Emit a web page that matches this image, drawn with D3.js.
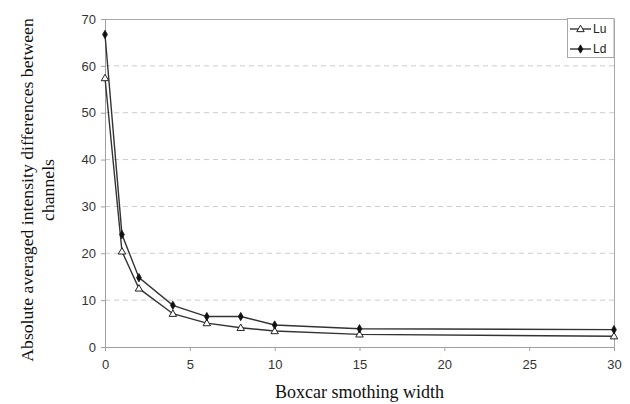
<!DOCTYPE html>
<html>
<head>
<meta charset="utf-8">
<script src="https://cdn.jsdelivr.net/npm/d3@7"></script>
<style>
  html, body { margin: 0; padding: 0; background: #fff; }
  svg { display: block; }
</style>
</head>
<body>
<div id="chart"></div>
<script>
const widths = [0, 1, 2, 4, 6, 8, 10, 15, 30];
const lu = [57.4, 20.4, 12.5, 7.1, 5.1, 4.1, 3.4, 2.7, 2.3];
const ld = [66.7, 24.0, 14.8, 8.9, 6.5, 6.5, 4.7, 3.9, 3.7];
const xTicks = [0, 5, 10, 15, 20, 25, 30];
const yTicks = [0, 10, 20, 30, 40, 50, 60, 70];

const width = 630;
const height = 404;
const area = { left: 105, right: 614, top: 19, bottom: 347 };

const svg = d3.select("#chart")
  .append("svg")
  .attr("width", width)
  .attr("height", height);

const xScale = d3.scaleLinear().domain([0, 30]).range([area.left, area.right]);
const yScale = d3.scaleLinear().domain([0, 70]).range([area.bottom, area.top]);

// dashed gridlines
svg.append("g")
  .selectAll("line")
  .data(yTicks.filter(d => d > 0 && d < 70))
  .join("line")
  .attr("x1", area.left)
  .attr("x2", area.right)
  .attr("y1", d => yScale(d))
  .attr("y2", d => yScale(d))
  .attr("stroke", "#cccccc")
  .attr("stroke-width", 1)
  .attr("stroke-dasharray", "5,4");

// top and right border
svg.append("path")
  .attr("d", `M${area.left},${area.top + 0.5}H${area.right + 0.5}V${area.bottom}`)
  .attr("fill", "none")
  .attr("stroke", "#a8a8a8");

// axes
const xAxis = svg.append("g")
  .attr("transform", `translate(0,${area.bottom})`)
  .call(d3.axisBottom(xScale).tickValues(xTicks).tickSize(4).tickPadding(9));

const yAxis = svg.append("g")
  .attr("transform", `translate(${area.left},0)`)
  .call(d3.axisLeft(yScale).tickValues(yTicks).tickSize(4).tickPadding(5));

[xAxis, yAxis].forEach(g => {
  g.select(".domain").attr("stroke", "#a0a0a0");
  g.selectAll(".tick line").attr("stroke", "#a0a0a0");
  g.selectAll(".tick text")
    .attr("fill", "#333")
    .style("font-family", "Liberation Sans, Arial, sans-serif")
    .style("font-size", "13px");
});

const line = d3.line()
  .x((d, i) => xScale(widths[i]))
  .y(d => yScale(d));

const series = [
  { name: "Lu", values: lu, marker: "triangle" },
  { name: "Ld", values: ld, marker: "diamond" },
];

function drawMarker(g, type, x, y) {
  if (type === "triangle") {
    g.append("path")
      .attr("d", d3.symbol(d3.symbolTriangle, 24)())
      .attr("transform", `translate(${x},${y + 0.5})`)
      .attr("fill", "#fff")
      .attr("stroke", "#222")
      .attr("stroke-width", 1);
  } else {
    g.append("path")
      .attr("d", d3.symbol(d3.symbolDiamond, 20)())
      .attr("transform", `translate(${x},${y})`)
      .attr("fill", "#111")
      .attr("stroke", "#111")
      .attr("stroke-width", 0.8);
  }
}

series.forEach(s => {
  svg.append("path")
    .datum(s.values)
    .attr("d", line)
    .attr("fill", "none")
    .attr("stroke", "#333")
    .attr("stroke-width", 1.4);
});

series.forEach(s => {
  const g = svg.append("g");
  s.values.forEach((v, i) => drawMarker(g, s.marker, xScale(widths[i]), yScale(v)));
});

// legend
const legend = svg.append("g");
legend.append("rect")
  .attr("x", 567.5)
  .attr("y", 18.5)
  .attr("width", 46.5)
  .attr("height", 39)
  .attr("fill", "#fff")
  .attr("stroke", "#a8a8a8");

series.forEach((s, i) => {
  const y = 29 + i * 20;
  legend.append("line")
    .attr("x1", 570).attr("x2", 591)
    .attr("y1", y).attr("y2", y)
    .attr("stroke", "#333")
    .attr("stroke-width", 1.4);
  drawMarker(legend, s.marker, 580.5, y);
  legend.append("text")
    .attr("x", 593)
    .attr("y", y)
    .attr("dy", "0.35em")
    .attr("fill", "#222")
    .style("font-family", "Liberation Sans, Arial, sans-serif")
    .style("font-size", "12px")
    .text(s.name);
});

// axis titles
svg.append("text")
  .attr("x", (area.left + area.right) / 2)
  .attr("y", 398)
  .attr("text-anchor", "middle")
  .attr("fill", "#111")
  .style("font-family", "Liberation Serif, Times New Roman, serif")
  .style("font-size", "18px")
  .text("Boxcar smothing width");

const yTitle = svg.append("text")
  .attr("transform", "translate(27,190) rotate(-90)")
  .attr("text-anchor", "middle")
  .attr("fill", "#111")
  .style("font-family", "Liberation Serif, Times New Roman, serif")
  .style("font-size", "17.7px");

yTitle.append("tspan")
  .attr("x", 0)
  .attr("dy", "0.35em")
  .text("Absolute averaged intensity differences between");
yTitle.append("tspan")
  .attr("x", 0)
  .attr("dy", "1.2em")
  .text("channels");
</script>
</body>
</html>
